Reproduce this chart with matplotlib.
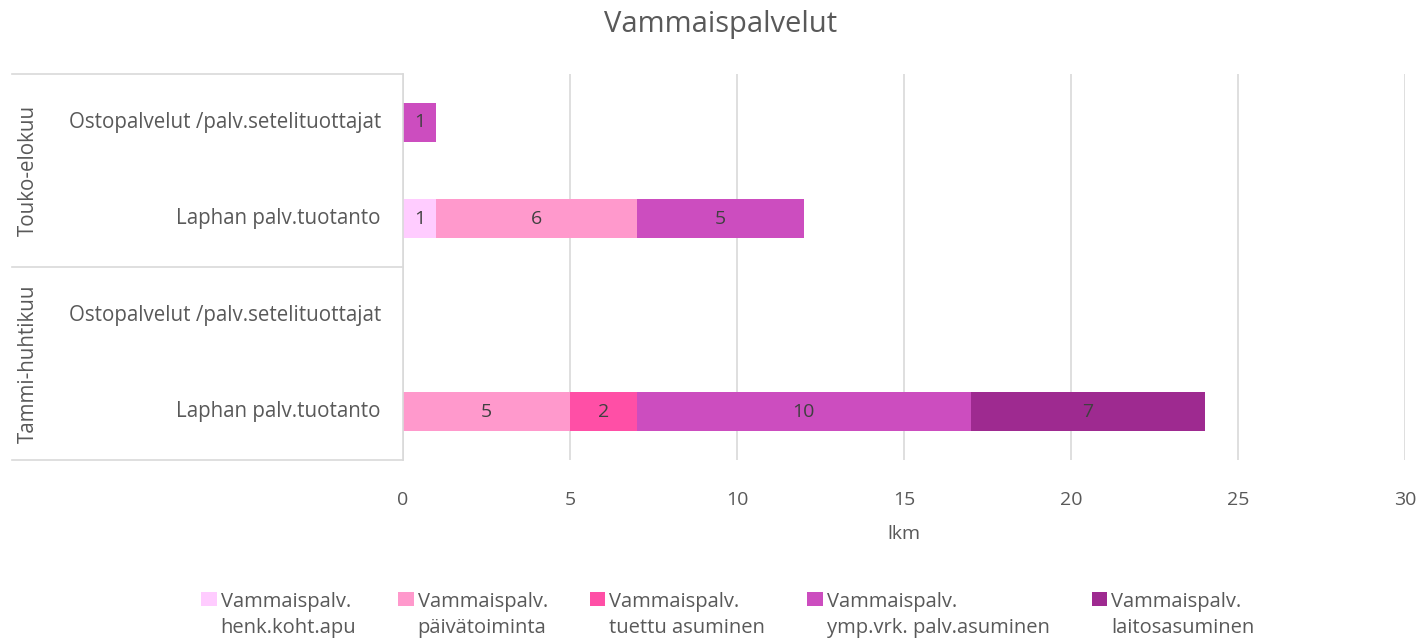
import numpy as np
import matplotlib.pyplot as plt

plt.rcParams['font.family'] = ['Open Sans', 'DejaVu Sans']

# categories, bottom to top
groups = ['Tammi-huhtikuu', 'Touko-elokuu']
categories = ['Laphan palv.tuotanto', 'Ostopalvelut /palv.setelituottajat',
              'Laphan palv.tuotanto', 'Ostopalvelut /palv.setelituottajat']

series_names = ['Vammaispalv.\nhenk.koht.apu', 'Vammaispalv.\npäivätoiminta',
                'Vammaispalv.\ntuettu asuminen', 'Vammaispalv.\nymp.vrk. palv.asuminen',
                'Vammaispalv.\nlaitosasuminen']
henk_koht_apu = [0, 0, 1, 0]
paivatoiminta = [5, 0, 6, 0]
tuettu_asuminen = [2, 0, 0, 0]
ymp_vrk = [10, 0, 5, 1]
laitosasuminen = [7, 0, 0, 0]
series = [henk_koht_apu, paivatoiminta, tuettu_asuminen, ymp_vrk, laitosasuminen]
colors = ['#FFCCFF', '#FF99CC', '#FF4FA6', '#CC4DBF', '#9E2A90']

txt = '#595959'
fs = 14
fig = plt.figure(figsize=(14.27, 6.41), dpi=100)
ax = fig.add_axes([403/1427, 181/641, 1002/1427, 386/641])

y = np.arange(len(categories))
left = np.zeros(len(categories))
for name, vals, c in zip(series_names, series, colors):
    vals = np.array(vals, dtype=float)
    bars = ax.barh(y, vals, left=left, height=0.4, color=c, label=name)
    for b, v in zip(bars, vals):
        if v > 0:
            ax.text(b.get_x() + b.get_width()/2, b.get_y() + b.get_height()/2,
                    f'{int(v)}', ha='center', va='center', fontsize=fs, color='#404040')
    left += vals

ax.set_xlim(0, 30)
ax.set_ylim(-0.5, len(categories) - 0.5)
ax.set_xticks(range(0, 31, 5))
ax.tick_params(axis='x', length=0, labelsize=fs, labelcolor=txt, pad=22)
ax.set_yticks([])
ax.grid(axis='x', color='#D9D9D9', lw=1.2)
ax.set_axisbelow(True)
for s in ['top', 'right', 'bottom']:
    ax.spines[s].set_visible(False)
ax.spines['left'].set_color('#D9D9D9')
ax.spines['left'].set_linewidth(1.2)
ax.set_xlabel('lkm', fontsize=fs, color=txt, labelpad=12)

# category labels and group labels on the left
trans = ax.get_yaxis_transform()
for yi, lab in zip(y, categories):
    ax.text(-0.022, yi, lab, transform=trans, ha='right', va='center',
            fontsize=14.8, color=txt)
x0 = -391/1002
for k, g in enumerate(groups):
    ax.text(x0 + 0.016, 2*k + 0.5, g, transform=trans, rotation=90,
            ha='center', va='center', fontsize=14.8, color=txt)
for yl in [-0.5, 1.5, 3.5]:
    ax.plot([x0, 0], [yl, yl], transform=trans, color='#D9D9D9', lw=1.2,
            clip_on=False)

fig.suptitle('Vammaispalvelut', x=0.505, y=0.985, fontsize=21, color=txt)

handles, labels = ax.get_legend_handles_labels()
leg = fig.legend(handles, labels, loc='lower center', bbox_to_anchor=(0.51, -0.024),
                 ncol=5, frameon=False, fontsize=14.5, handlelength=0.75,
                 handleheight=0.75, handletextpad=0.2, columnspacing=2.1,
                 labelspacing=0.2)
for t in leg.get_texts():
    t.set_color(txt)
    t.set_linespacing(1.45)
# put the colour boxes level with the first text line
for col in leg._legend_handle_box.get_children():
    for item in col.get_children():
        item.align = 'top'

fig.savefig('out.png', dpi=100)
